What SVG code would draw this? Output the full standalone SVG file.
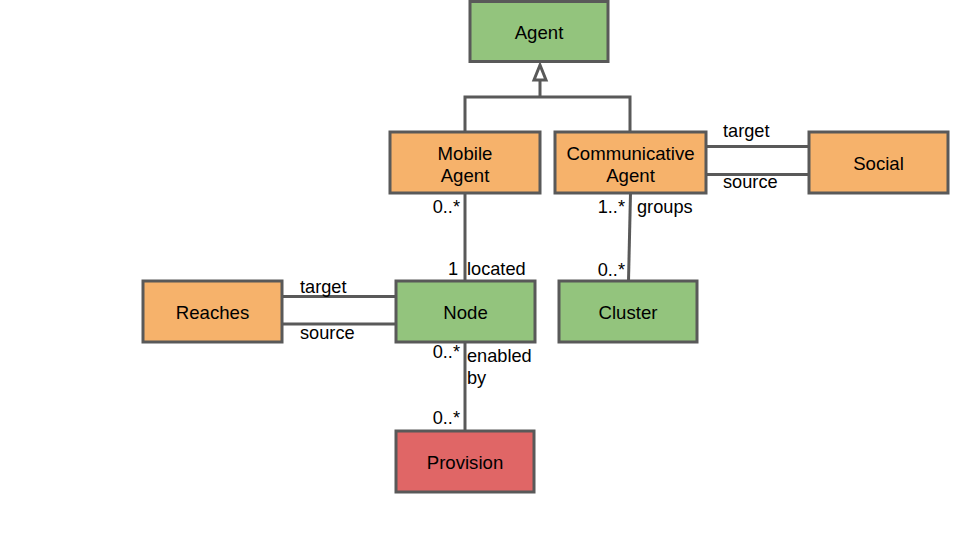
<svg xmlns="http://www.w3.org/2000/svg" width="960" height="540" viewBox="0 0 960 540">
  <style>
    .box { stroke: #595959; stroke-width: 3; }
    .green { fill: #93c47d; }
    .orange { fill: #f6b26b; }
    .red { fill: #e06666; }
    .name { font-family: "Liberation Sans", Arial, sans-serif; font-size: 18.6px; fill: #000; text-anchor: middle; }
    .lbl { font-family: "Liberation Sans", Arial, sans-serif; font-size: 18.2px; fill: #000; }
    .end { text-anchor: end; }
    .wire { stroke: #595959; stroke-width: 3; fill: none; }
  </style>
  <rect width="960" height="540" fill="#fff"/>

  <!-- connectors -->
  <g id="connectors">
    <!-- generalization to Agent -->
    <polyline class="wire" points="465,132 465,97 630,97 630,132"/>
    <line class="wire" x1="540" y1="97" x2="540" y2="80"/>
    <polygon points="540,65 534,80 546,80" fill="#fff" stroke="#595959" stroke-width="3" stroke-linejoin="miter"/>
    <!-- Communicative Agent - Social -->
    <line class="wire" x1="706" y1="146.5" x2="809" y2="146.5"/>
    <line class="wire" x1="706" y1="174.5" x2="809" y2="174.5"/>
    <!-- Mobile Agent - Node -->
    <line class="wire" x1="465" y1="193" x2="465" y2="281"/>
    <!-- Communicative Agent - Cluster -->
    <line class="wire" x1="630.5" y1="193" x2="628.5" y2="281"/>
    <!-- Reaches - Node -->
    <line class="wire" x1="282" y1="296.5" x2="396" y2="296.5"/>
    <line class="wire" x1="282" y1="324" x2="396" y2="324"/>
    <!-- Node - Provision -->
    <line class="wire" x1="465" y1="342" x2="465" y2="431"/>

    <text class="lbl" x="723" y="137">target</text>
    <text class="lbl" x="723" y="188">source</text>
    <text class="lbl end" x="460" y="213">0..*</text>
    <text class="lbl end" x="458" y="275">1</text>
    <text class="lbl" x="467" y="275">located</text>
    <text class="lbl end" x="625" y="213">1..*</text>
    <text class="lbl" x="637" y="213">groups</text>
    <text class="lbl end" x="625" y="276">0..*</text>
    <text class="lbl" x="300" y="293">target</text>
    <text class="lbl" x="300" y="339">source</text>
    <text class="lbl end" x="460" y="358">0..*</text>
    <text class="lbl" x="467" y="362">enabled</text>
    <text class="lbl" x="467" y="384">by</text>
    <text class="lbl end" x="460" y="424">0..*</text>
  </g>

  <g id="agent">
    <rect class="box green" x="470" y="1.5" width="138" height="60"/>
    <text class="name" x="539" y="38.5">Agent</text>
  </g>
  <g id="mobile-agent">
    <rect class="box orange" x="390" y="132" width="150" height="61"/>
    <text class="name" x="465" y="159.5">Mobile</text>
    <text class="name" x="465" y="181.5">Agent</text>
  </g>
  <g id="communicative-agent">
    <rect class="box orange" x="555" y="132" width="151" height="61"/>
    <text class="name" x="630.5" y="159.5">Communicative</text>
    <text class="name" x="630.5" y="181.5">Agent</text>
  </g>
  <g id="social">
    <rect class="box orange" x="809" y="132" width="139" height="61"/>
    <text class="name" x="878.5" y="169.5">Social</text>
  </g>
  <g id="reaches">
    <rect class="box orange" x="143" y="281" width="139" height="61"/>
    <text class="name" x="212.5" y="318.5">Reaches</text>
  </g>
  <g id="node">
    <rect class="box green" x="396" y="281" width="139" height="61"/>
    <text class="name" x="465.5" y="318.5">Node</text>
  </g>
  <g id="cluster">
    <rect class="box green" x="559" y="281" width="138" height="61"/>
    <text class="name" x="628" y="318.5">Cluster</text>
  </g>
  <g id="provision">
    <rect class="box red" x="396" y="431" width="138" height="61"/>
    <text class="name" x="465" y="468.5">Provision</text>
  </g>
</svg>
